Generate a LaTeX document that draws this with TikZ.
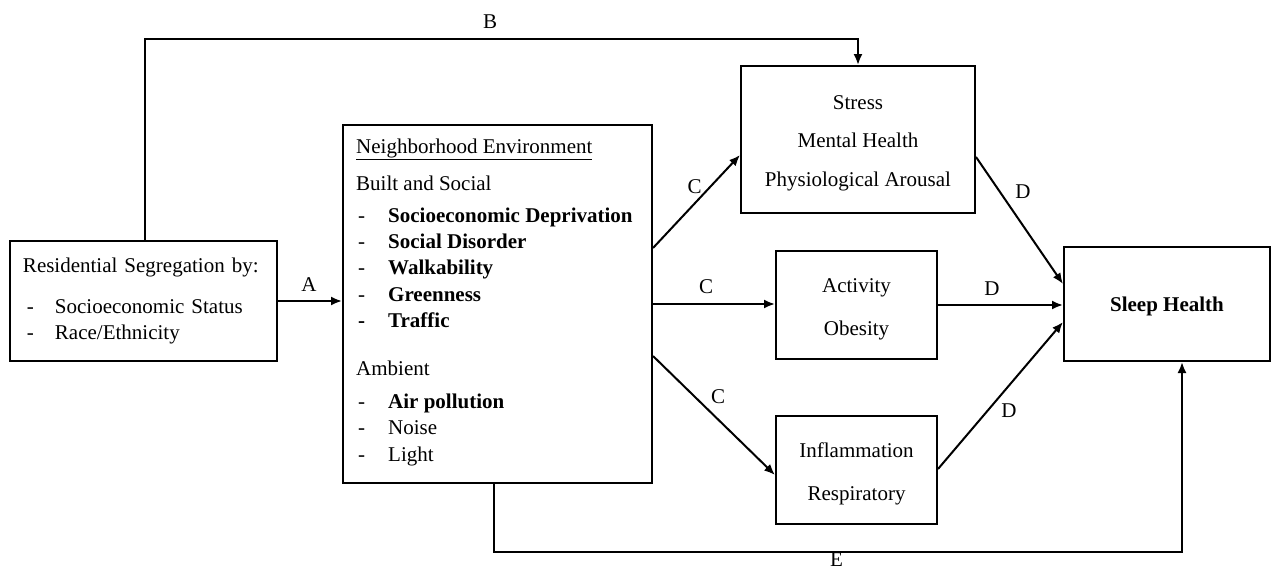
\documentclass[tikz,border=0pt]{standalone}
\usepackage{fontspec}
\setmainfont{Liberation Serif}
\usetikzlibrary{arrows.meta}

\begin{document}
\begin{tikzpicture}[x=1pt, y=-1pt,
  box/.style={draw, line width=2pt, inner sep=0pt, font=\fontsize{21}{26.3}\selectfont},
  txt/.style={inner sep=0pt, font=\fontsize{21}{26.3}\selectfont},
  arr/.style={line width=2pt, -{Latex[length=11pt, width=9pt]}},
  lab/.style={inner sep=0pt, font=\fontsize{21}{24}\selectfont}]
\useasboundingbox (0,0) rectangle (1271,568);

% Segregation
\node[box, minimum width=267pt, minimum height=120pt, text width=241pt, align=left] (seg) at (143.5,301) {Residential Segregation by:\\[14.7pt]
\hspace*{4pt}\makebox[28pt][l]{-}Socioeconomic Status\\
\hspace*{4pt}\makebox[28pt][l]{-}Race/Ethnicity};

% Neighborhood
\node[box, minimum width=309pt, minimum height=358pt] (env) at (497.5,304) {};
\node[txt, anchor=north west, align=left] (envlist) at ([xshift=14pt, yshift=-14.5pt]env.north west) {\underline{Neighborhood Environment}\\[10.7pt]
Built and Social\\[5.7pt]
\hspace*{2pt}\makebox[30pt][l]{-}\textbf{Socioeconomic Deprivation}\\
\hspace*{2pt}\makebox[30pt][l]{-}\textbf{Social Disorder}\\
\hspace*{2pt}\makebox[30pt][l]{-}\textbf{Walkability}\\
\hspace*{2pt}\makebox[30pt][l]{-}\textbf{Greenness}\\
\hspace*{2pt}\makebox[30pt][l]{\textbf{-}}\textbf{Traffic}\\[21.7pt]
Ambient\\[6.7pt]
\hspace*{2pt}\makebox[30pt][l]{-}\textbf{Air pollution}\\
\hspace*{2pt}\makebox[30pt][l]{-}Noise\\
\hspace*{2pt}\makebox[30pt][l]{-}Light};

% Mediators
\node[box, minimum width=234pt, minimum height=147pt, align=center] (stress) at (858,139.5) {\rule{0pt}{21pt}Stress\\[12.2pt]Mental Health\\[12.2pt]Physiological Arousal};
\node[box, minimum width=161pt, minimum height=108pt, align=center] (act) at (856.5,305) {\rule{0pt}{22pt}Activity\\[16.7pt]Obesity};
\node[box, minimum width=161pt, minimum height=108pt, align=center] (infl) at (856.5,470) {\rule{0pt}{22pt}Inflammation\\[16.7pt]Respiratory};

% Outcome
\node[box, minimum width=206pt, minimum height=114pt] (sleep) at (1167,304) {\rule{0pt}{20pt}\textbf{Sleep Health}};

% Paths A and B
\draw[arr] (seg.east) -- (seg.east -| env.west) node[lab, midway, xshift=-1pt, yshift=16pt] {A};
\draw[arr] ([xshift=1.5pt]seg.north) |- ([yshift=26pt]stress.north) node[lab, pos=0.742, yshift=17pt] {B} -- (stress.north);

% Paths C
\draw[arr] ([yshift=56pt]env.east) -- ([yshift=-15.5pt]stress.west) node[lab, midway, xshift=-2pt, yshift=14.5pt] {C};
\draw[arr] (env.east) -- (env.east -| act.west) node[lab, midway, xshift=-8pt, yshift=17.5pt] {C};
\draw[arr] ([yshift=-52pt]env.east) -- ([yshift=-5pt]infl.west) node[lab, midway, xshift=4pt, yshift=18.5pt] {C};

% Paths D
\draw[arr] ([yshift=-17.5pt]stress.east) -- ([yshift=20pt]sleep.west) node[lab, midway, xshift=3.5pt, yshift=28.5pt] {D};
\draw[arr] (act.east) -- (act.east -| sleep.west) node[lab, midway, xshift=-8.5pt, yshift=16pt] {D};
\draw[arr] ([yshift=1pt]infl.east) -- ([yshift=-18pt]sleep.west) node[lab, midway, xshift=8.5pt, yshift=-15.5pt] {D};

% Path E
\draw[arr] ([xshift=-3.5pt]env.south) -- ++(0,68) -| ([xshift=15pt]sleep.south) node[lab, pos=0.249, yshift=-7.5pt] {E};
\end{tikzpicture}
\end{document}
